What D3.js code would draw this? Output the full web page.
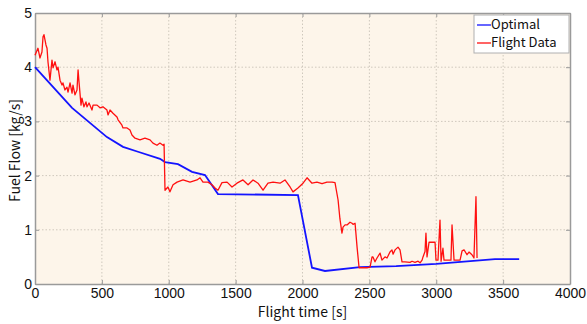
<!DOCTYPE html>
<html>
<head>
<meta charset="utf-8">
<script src="https://cdn.jsdelivr.net/npm/d3@7"></script>
<style>
  body { margin: 0; background: #fff; }
  svg { font-family: "Noto Sans CJK JP", "DejaVu Sans", sans-serif; }
  .grid line { stroke: #cfc8bd; stroke-dasharray: 1.5 2; }
  .axis path, .axis line { stroke: #9a9a9a; }
  .axis text { font-size: 14px; fill: #111; }
</style>
</head>
<body>
<svg width="587" height="324"></svg>
<script>
// Optimal fuel flow profile [time s, kg/s]
const optimalTime = [0, 277, 538, 658, 770, 935, 972, 1069, 1174, 1271, 1368, 1966, 2071, 2168, 2430, 2700, 3000, 3439, 3620];
const optimalFlow = [4.0, 3.25, 2.71, 2.53, 2.44, 2.31, 2.25, 2.21, 2.07, 2.01, 1.66, 1.64, 0.30, 0.24, 0.31, 0.33, 0.37, 0.46, 0.46];

// Recorded flight data [time s, kg/s]
const flightTime = [0, 22, 37, 52, 60, 67, 82, 90, 97, 112, 127, 135, 150, 164, 172, 187, 202, 209, 224, 239, 247, 262, 277, 284, 299, 314, 322, 329, 344, 351, 366, 381, 389, 404, 426, 434, 464, 486, 508, 538, 546, 561, 583, 613, 621, 650, 658, 688, 710, 725, 748, 785, 822, 860, 882, 912, 934, 957, 965, 972,
  994, 1009, 1032, 1062, 1107, 1159, 1211, 1234, 1256, 1293, 1323, 1346, 1368, 1398, 1436, 1473, 1510, 1555, 1593, 1630, 1667, 1705, 1742, 1780, 1832, 1869, 1907, 1929, 1966, 2004, 2034, 2071, 2108, 2146, 2183, 2221, 2243,
  2266, 2280, 2295, 2303, 2318, 2333, 2355, 2370, 2378, 2393, 2408, 2423, 2430, 2452, 2482, 2505, 2520, 2527, 2542, 2557, 2580, 2594, 2617, 2632, 2654, 2669, 2677, 2692, 2714, 2729, 2744, 2766, 2804, 2819, 2841, 2864, 2879, 2894, 2901, 2916, 2923, 2931, 2946, 2968, 2991, 2998, 3013, 3028, 3036, 3050, 3058, 3073, 3088, 3110, 3118, 3133, 3178, 3193, 3208, 3230, 3245, 3267, 3282, 3297, 3305];
const flightFlow = [4.22, 4.35, 4.17, 4.28, 4.56, 4.6, 4.41, 4.35, 4.1, 3.76, 4.13, 3.99, 4.1, 3.95, 4.0, 3.76, 3.67, 3.71, 3.58, 3.63, 3.54, 3.71, 3.52, 3.67, 3.49, 3.58, 3.95, 3.73, 3.30, 3.43, 3.27, 3.36, 3.27, 3.34, 3.21, 3.30, 3.30, 3.25, 3.27, 3.21, 3.12, 3.21, 3.15, 3.08, 3.03, 2.93, 2.88, 2.88, 2.84, 2.75, 2.69, 2.66, 2.69, 2.66, 2.60, 2.56, 2.60, 2.56, 2.58, 1.73,
  1.79, 1.70, 1.83, 1.88, 1.92, 1.88, 1.92, 1.96, 1.88, 1.88, 1.83, 1.77, 1.73, 1.87, 1.88, 1.79, 1.86, 1.92, 1.83, 1.92, 1.86, 1.73, 1.86, 1.88, 1.86, 1.92, 1.79, 1.70, 1.77, 1.86, 1.96, 1.86, 1.88, 1.85, 1.88, 1.88, 1.87,
  1.55, 1.20, 0.94, 1.05, 1.09, 1.09, 1.14, 1.12, 1.10, 1.12, 0.68, 0.30, 0.30, 0.30, 0.30, 0.31, 0.50, 0.50, 0.41, 0.48, 0.57, 0.44, 0.50, 0.48, 0.59, 0.63, 0.55, 0.63, 0.68, 0.63, 0.41, 0.41, 0.40, 0.42, 0.40, 0.42, 0.39, 0.44, 0.50, 0.60, 0.94, 0.50, 0.77, 0.77, 0.77, 0.44, 0.44, 1.18, 0.42, 0.66, 0.44, 0.44, 0.44, 0.44, 1.09, 0.44, 0.44, 0.61, 0.63, 0.54, 0.59, 0.54, 0.48, 1.61, 0.48];

const xTicks = [0, 500, 1000, 1500, 2000, 2500, 3000, 3500, 4000];
const yTicks = [0, 1, 2, 3, 4, 5];
const seriesNames = ["Optimal", "Flight Data"];
const seriesColors = ["#1414ff", "#ff1010"];

const svg = d3.select("svg");
const margin = {left: 35, top: 13, right: 17, bottom: 40};
const width = 587 - margin.left - margin.right;
const height = 324 - margin.top - margin.bottom;

const x = d3.scaleLinear().domain([0, 4000]).range([0, width]);
const y = d3.scaleLinear().domain([0, 5]).range([height, 0]);

const g = svg.append("g").attr("transform", `translate(${margin.left},${margin.top})`);

// plot background
g.append("rect")
    .attr("width", width)
    .attr("height", height)
    .attr("fill", "#fdf5ea");

// grid
g.append("g").attr("class", "grid")
    .selectAll("line").data(xTicks.slice(1, -1)).join("line")
    .attr("x1", d => x(d)).attr("x2", d => x(d))
    .attr("y1", 0).attr("y2", height);
g.append("g").attr("class", "grid")
    .selectAll("line").data(yTicks.slice(1, -1)).join("line")
    .attr("y1", d => y(d)).attr("y2", d => y(d))
    .attr("x1", 0).attr("x2", width);

// axes, ticks pointing inwards
g.append("g").attr("class", "axis")
    .attr("transform", `translate(0,${height})`)
    .call(d3.axisBottom(x).tickValues(xTicks).tickFormat(d3.format("d")).tickSizeInner(-4).tickSizeOuter(0).tickPadding(4));
g.append("g").attr("class", "axis")
    .call(d3.axisLeft(y).tickValues(yTicks).tickFormat(d3.format("d")).tickSizeInner(-4).tickSizeOuter(0).tickPadding(3));
g.append("g").attr("class", "axis")
    .call(d3.axisTop(x).tickValues(xTicks).tickSizeInner(-4).tickSizeOuter(0).tickFormat(""));
g.append("g").attr("class", "axis")
    .attr("transform", `translate(${width},0)`)
    .call(d3.axisRight(y).tickValues(yTicks).tickSizeInner(-4).tickSizeOuter(0).tickFormat(""));
g.selectAll(".axis path").attr("stroke-width", 1.5);

// lines
const optimal = optimalTime.map((t, i) => [t, optimalFlow[i]]);
const flight = flightTime.map((t, i) => [t, flightFlow[i]]);
const line = d3.line().x(d => x(d[0])).y(d => y(d[1]));

g.append("path").datum(optimal)
    .attr("fill", "none")
    .attr("stroke", seriesColors[0])
    .attr("stroke-width", 1.8)
    .attr("d", line);
g.append("path").datum(flight)
    .attr("fill", "none")
    .attr("stroke", seriesColors[1])
    .attr("stroke-width", 1.3)
    .attr("stroke-linejoin", "round")
    .attr("d", line);

// axis labels
svg.append("text")
    .attr("x", margin.left + width / 2)
    .attr("y", 317)
    .attr("text-anchor", "middle")
    .attr("font-size", 14)
    .attr("fill", "#111")
    .text("Flight time [s]");
svg.append("text")
    .attr("transform", `translate(20,${margin.top + height / 2 + 2}) rotate(-90)`)
    .attr("text-anchor", "middle")
    .attr("font-size", 14)
    .attr("fill", "#111")
    .text("Fuel Flow [kg/s]");

// legend
const legend = svg.append("g").attr("transform", "translate(474,15)");
legend.append("rect")
    .attr("width", 95).attr("height", 38)
    .attr("fill", "#fff").attr("stroke", "#b0b0b0");
seriesNames.forEach((name, i) => {
    const row = legend.append("g").attr("transform", `translate(0,${10 + i * 18})`);
    row.append("line")
        .attr("x1", 3).attr("x2", 17)
        .attr("stroke", seriesColors[i]).attr("stroke-width", 1.3);
    row.append("text")
        .attr("x", 17).attr("y", 4)
        .attr("font-size", 13)
        .attr("fill", "#111")
        .text(name);
});
</script>
</body>
</html>
